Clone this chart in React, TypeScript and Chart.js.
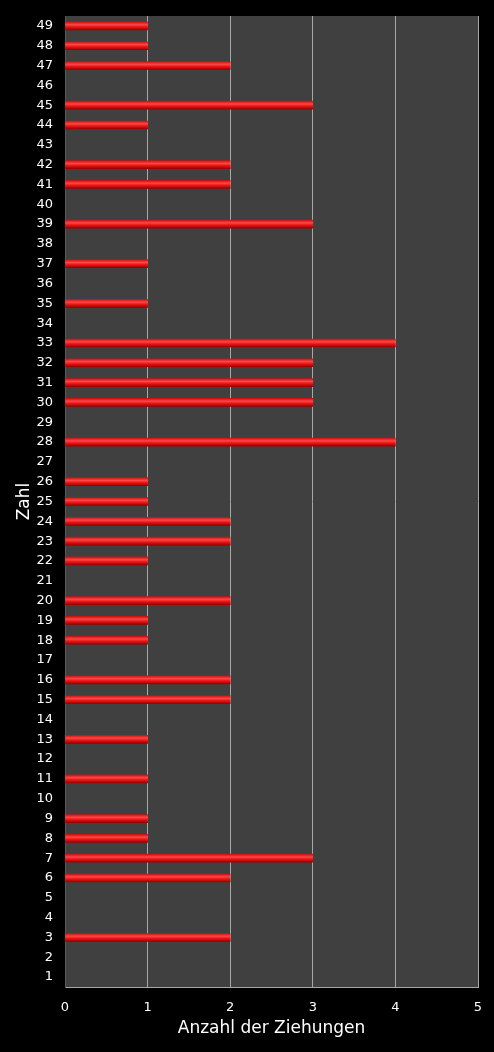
import { useRef, useEffect } from "react";
import { Chart, registerables, Plugin } from "chart.js";

Chart.register(...registerables);

// Zahlen 1..49 und wie oft sie gezogen wurden
const numbers: string[] = Array.from({ length: 49 }, (_, i) => String(i + 1));
const draws: number[] = [
  0, 0, 2, 0, 0, 2, 3, 1, 1, 0, // 1-10
  1, 0, 1, 0, 2, 2, 0, 1, 1, 2, // 11-20
  0, 1, 2, 2, 1, 1, 0, 4, 0, 3, // 21-30
  3, 3, 4, 0, 1, 0, 1, 0, 3, 0, // 31-40
  2, 2, 0, 1, 3, 0, 2, 1, 1, // 41-49
];
const xTicks: number[] = [0, 1, 2, 3, 4, 5];

const FONT = "'DejaVu Sans', Verdana, sans-serif";

const plotBackground: Plugin<"bar"> = {
  id: "plotBackground",
  beforeDraw(chart) {
    const { ctx, chartArea } = chart;
    ctx.save();
    ctx.fillStyle = "#404040";
    ctx.fillRect(
      chartArea.left,
      chartArea.top,
      chartArea.right - chartArea.left,
      chartArea.bottom - chartArea.top
    );
    ctx.restore();
  },
};

export default function App() {
  const canvasRef = useRef<HTMLCanvasElement>(null);

  useEffect(() => {
    document.body.style.margin = "0";
    const canvas = canvasRef.current;
    if (!canvas) return;
    const context = canvas.getContext("2d");
    if (!context) return;

    const chart = new Chart(context, {
      type: "bar",
      data: {
        labels: numbers,
        datasets: [
          {
            label: "Anzahl",
            data: draws,
            barThickness: 8,
            borderWidth: 0,
            borderSkipped: false,
            backgroundColor: (c: any) => {
              if (c.raw === 0) return "rgba(0,0,0,0)";
              const yScale = c.chart.scales?.y;
              if (!yScale || c.dataIndex === undefined) return "#e01818";
              const y = yScale.getPixelForValue(c.dataIndex);
              if (!Number.isFinite(y)) return "#e01818";
              const g = c.chart.ctx.createLinearGradient(0, y - 4, 0, y + 4);
              g.addColorStop(0, "#c81212");
              g.addColorStop(0.35, "#ff4646");
              g.addColorStop(0.6, "#ec1818");
              g.addColorStop(1, "#9a0000");
              return g;
            },
          },
        ],
      },
      options: {
        indexAxis: "y",
        animation: false,
        responsive: false,
        maintainAspectRatio: false,
        layout: { padding: { left: 10, right: 16, top: 16, bottom: 9 } },
        plugins: {
          legend: { display: false },
          tooltip: { enabled: false },
        },
        scales: {
          x: {
            min: 0,
            max: 5,
            afterBuildTicks: (axis) => {
              axis.ticks = xTicks.map((v) => ({ value: v }));
            },
            afterFit: (axis) => {
              axis.height = 56;
              axis.paddingLeft = 0;
              axis.paddingRight = 0;
            },
            grid: {
              color: (c: any) => (c.index === 0 ? "#5a5a5a" : "#a8a8a8"),
              drawTicks: false,
            },
            border: { color: "#a8a8a8", width: 1 },
            ticks: {
              color: "#ffffff",
              padding: 13,
              font: { family: FONT, size: 13 },
            },
            title: {
              display: true,
              text: "Anzahl der Ziehungen",
              color: "#ffffff",
              font: { family: FONT, size: 17 },
              padding: { top: 4, bottom: 4 },
            },
          },
          y: {
            reverse: true,
            afterFit: (axis) => {
              axis.width = 55;
              axis.paddingTop = 0;
              axis.paddingBottom = 0;
            },
            grid: { display: false, drawTicks: false },
            border: { color: "#5a5a5a", width: 1 },
            ticks: {
              color: "#ffffff",
              padding: 12,
              autoSkip: false,
              font: { family: FONT, size: 13 },
            },
            title: {
              display: true,
              text: "Zahl",
              color: "#ffffff",
              font: { family: FONT, size: 17 },
              padding: { top: 4, bottom: 4 },
            },
          },
        },
      },
      plugins: [plotBackground],
    });

    return () => {
      chart.destroy();
    };
  }, []);

  return (
    <div
      style={{
        position: "absolute",
        left: 0,
        top: 0,
        width: 494,
        height: 1052,
        background: "#000000",
      }}
    >
      <canvas ref={canvasRef} width={494} height={1052} style={{ width: 494, height: 1052 }} />
    </div>
  );
}
